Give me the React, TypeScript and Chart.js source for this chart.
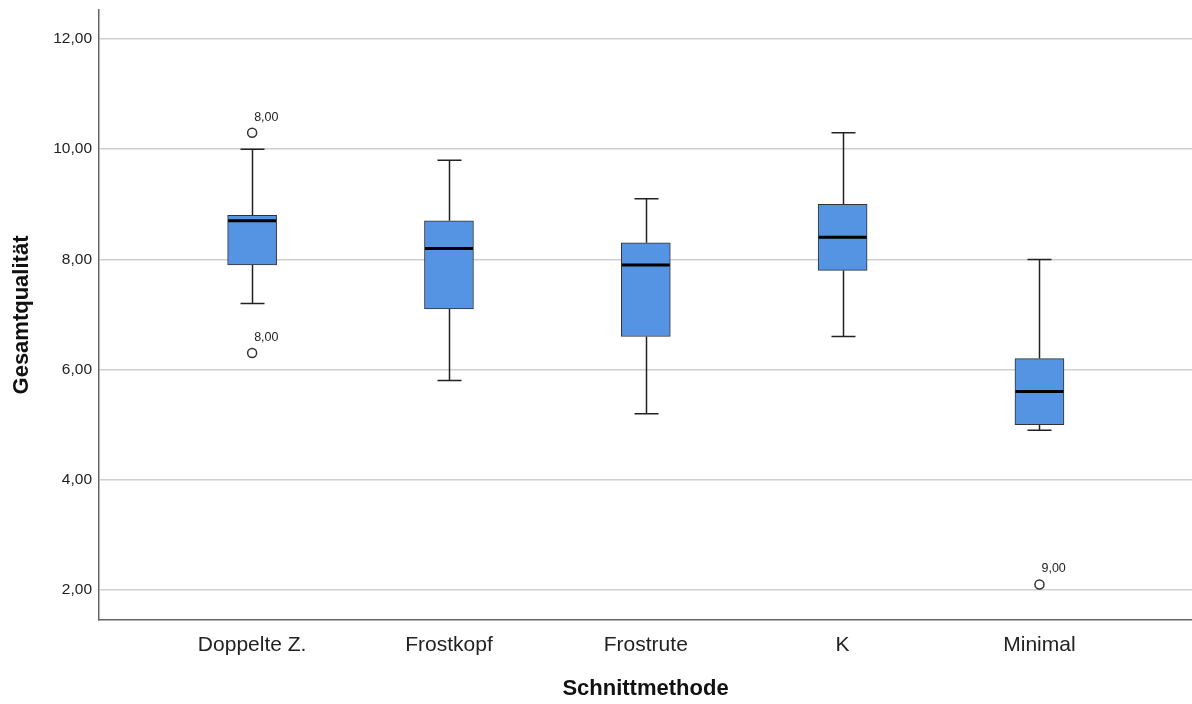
import React, { useEffect, useRef } from "react";
import { Chart, registerables } from "chart.js";

Chart.register(...registerables);

const categories = ["Doppelte Z.", "Frostkopf", "Frostrute", "K", "Minimal"];
const whiskerLow = [7.2, 5.8, 5.2, 6.6, 4.9];
const q1 = [7.9, 7.1, 6.6, 7.8, 5.0];
const median = [8.7, 8.2, 7.9, 8.4, 5.6];
const q3 = [8.8, 8.7, 8.3, 9.0, 6.2];
const whiskerHigh = [10.0, 9.8, 9.1, 10.3, 8.0];
const outlierCategory = [0, 0, 4];
const outlierValue = [10.3, 6.3, 2.1];
const outlierLabels = ["8,00", "8,00", "9,00"];
const yTicks = [2, 4, 6, 8, 10, 12];

const FONT = "'Liberation Sans', Arial, sans-serif";

const boxPlugin = {
  id: "boxParts",
  beforeDatasetsDraw(chart: any) {
    const { ctx, scales } = chart;
    const xs = scales.x;
    const ys = scales.y;
    ctx.save();
    ctx.strokeStyle = "#222";
    ctx.lineWidth = 1.5;
    categories.forEach((_, i) => {
      const cx = Math.round(xs.getPixelForValue(i)) + 0.5;
      const yLo = ys.getPixelForValue(whiskerLow[i]);
      const yHi = ys.getPixelForValue(whiskerHigh[i]);
      const yQ1 = ys.getPixelForValue(q1[i]);
      const yQ3 = ys.getPixelForValue(q3[i]);
      ctx.beginPath();
      ctx.moveTo(cx, yQ3);
      ctx.lineTo(cx, yHi);
      ctx.moveTo(cx, yQ1);
      ctx.lineTo(cx, yLo);
      ctx.moveTo(cx - 12, yHi);
      ctx.lineTo(cx + 12, yHi);
      ctx.moveTo(cx - 12, yLo);
      ctx.lineTo(cx + 12, yLo);
      ctx.stroke();
    });
    ctx.restore();
  },
  afterDatasetsDraw(chart: any) {
    const { ctx, scales } = chart;
    const xs = scales.x;
    const ys = scales.y;
    ctx.save();
    ctx.strokeStyle = "#000";
    ctx.lineWidth = 3;
    categories.forEach((_, i) => {
      const cx = xs.getPixelForValue(i);
      const ym = ys.getPixelForValue(median[i]);
      ctx.beginPath();
      ctx.moveTo(cx - 24, ym);
      ctx.lineTo(cx + 24, ym);
      ctx.stroke();
    });
    ctx.fillStyle = "#222";
    ctx.font = `12.5px ${FONT}`;
    ctx.textAlign = "left";
    ctx.textBaseline = "alphabetic";
    outlierLabels.forEach((lab, i) => {
      const px = xs.getPixelForValue(outlierCategory[i]);
      const py = ys.getPixelForValue(outlierValue[i]);
      ctx.fillText(lab, px + 2, py - 12);
    });
    ctx.restore();
  },
};

export default function App() {
  const ref = useRef<HTMLCanvasElement>(null);
  useEffect(() => {
    if (!ref.current) return;
    const chart = new Chart(ref.current, {
      type: "bar",
      data: {
        datasets: [
          {
            type: "bar",
            data: categories.map((_, i) => ({ x: i, y: [q1[i], q3[i]] })) as any,
            backgroundColor: "#5494e3",
            borderColor: "#333",
            borderWidth: 1,
            borderSkipped: false,
            barThickness: 49,
          } as any,
          {
            type: "scatter",
            data: outlierValue.map((v, i) => ({ x: outlierCategory[i], y: v })),
            pointRadius: 4.5,
            pointBorderWidth: 1.5,
            borderColor: "#333",
            backgroundColor: "#fff",
            pointStyle: "circle",
          } as any,
        ],
      },
      options: {
        responsive: false,
        animation: false,
        layout: { autoPadding: false, padding: { top: 10, right: 0, left: 0, bottom: 0 } },
        plugins: { legend: { display: false }, tooltip: { enabled: false } },
        scales: {
          x: {
            type: "linear",
            min: -0.778,
            max: 4.775,
            offset: false,
            grid: { display: false, drawTicks: false, offset: false },
            border: { display: true, color: "#666", width: 1.5 },
            ticks: {
              stepSize: 1,
              includeBounds: false,
              autoSkip: false,
              maxRotation: 0,
              padding: 13,
              color: "#222",
              font: { family: FONT, size: 21 },
              callback: (v: any) => categories[v as number] ?? "",
            },
            title: {
              display: true,
              text: "Schnittmethode",
              color: "#111",
              font: { family: FONT, size: 22, weight: "bold" },
              padding: { top: 0, bottom: 2 },
            },
            afterFit: (s: any) => {
              s.height = 84;
              s.paddingLeft = 0;
              s.paddingRight = 0;
            },
          },
          y: {
            type: "linear",
            min: 1.4545,
            max: 12.527,
            grid: { color: "#cfcfcf", lineWidth: 1.5, drawTicks: false },
            border: { display: true, color: "#666", width: 1.5 },
            ticks: {
              stepSize: 2,
              includeBounds: false,
              padding: 7,
              color: "#222",
              font: { family: FONT, size: 15.5 },
              callback: (v: any) =>
                yTicks.includes(v) ? (v as number).toFixed(2).replace(".", ",") : "",
            },
            title: {
              display: true,
              text: "Gesamtqualität",
              color: "#111",
              font: { family: FONT, size: 22, weight: "bold" },
              padding: { top: 9, bottom: 0 },
            },
            afterFit: (s: any) => {
              s.width = 99;
              s.paddingTop = 0;
              s.paddingBottom = 0;
            },
          },
        },
      } as any,
      plugins: [boxPlugin],
    });
    return () => chart.destroy();
  }, []);
  return (
    <div style={{ position: "fixed", left: 0, top: 0, width: 1192, height: 704, background: "#fff" }}>
      <canvas ref={ref} width={1192} height={704} />
    </div>
  );
}
